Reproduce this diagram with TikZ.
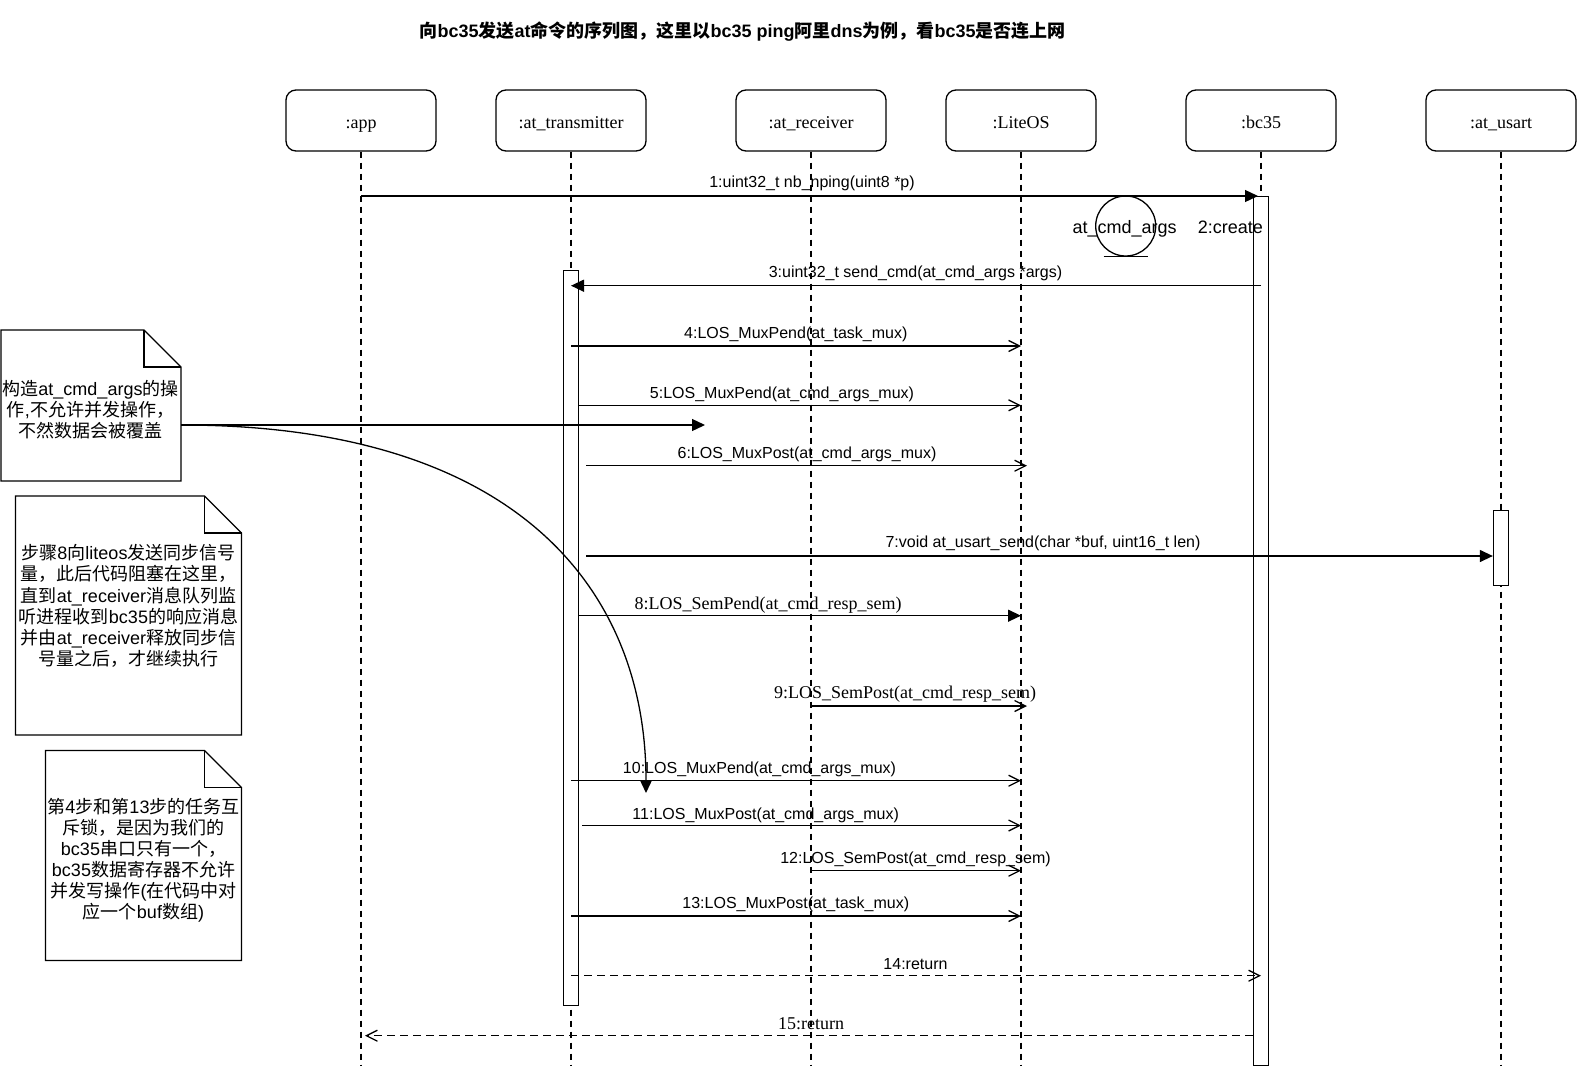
\documentclass[tikz,border=0pt]{standalone}
\usepackage{fontspec}
\setmainfont{Liberation Sans}
\newfontfamily\seriffam{Liberation Serif}
\newfontfamily\cjk{Noto Sans CJK SC}
\usetikzlibrary{arrows.meta}
\newcommand\zhtxt[1]{{\cjk #1}}
\begin{document}
\begin{tikzpicture}[x=1pt,y=-1pt,
  lifebox/.style={draw, rounded corners=10pt, minimum width=150pt, minimum height=61pt, inner sep=0pt, text height=15pt, text depth=0pt, line width=1.3pt, font=\seriffam\fontsize{18}{21}\selectfont},
  lifeline/.style={line width=1.3pt, dash pattern=on 6pt off 5pt},
  actbar/.style={draw, fill=white, line width=1.3pt, minimum width=15pt, inner sep=0pt},
  msg/.style={line width=1.3pt},
  sync/.style={msg, -{Triangle[length=13pt,width=12pt]}},
  async/.style={msg, -{Straight Barb[length=11pt,width=11pt]}},
  ret/.style={async, dash pattern=on 8pt off 5pt},
  lbl/.style={inner sep=0pt, yshift=-1.5pt, font=\fontsize{16}{19}\selectfont},
  slbl/.style={inner sep=0pt, yshift=-1pt, font=\seriffam\fontsize{18}{21}\selectfont},
  notebox/.style={line width=1.3pt, fill=white},
  notetext/.style={align=center, inner sep=0pt, font=\fontsize{18}{21.1}\selectfont}
]
\fill[white] (0,0) rectangle (1577,1068);
\useasboundingbox (0,0) rectangle (1577,1068);

% title
\node[inner sep=0pt, font=\bfseries\fontsize{18}{21}\selectfont] (title) at (742.6,31.5)
  {\zhtxt{向}bc35\zhtxt{发送}at\zhtxt{命令的序列图，这里以}bc35 ping\zhtxt{阿里}dns\zhtxt{为例，看}bc35\zhtxt{是否连上网}};

% lifeline heads
\node[lifebox] (app) at (361,120.5) {:app};
\node[lifebox] (tr) at (571,120.5) {:at\_transmitter};
\node[lifebox] (rc) at (811,120.5) {:at\_receiver};
\node[lifebox] (os) at (1021,120.5) {:LiteOS};
\node[lifebox] (bc) at (1261,120.5) {:bc35};
\node[lifebox] (us) at (1501,120.5) {:at\_usart};

% lifelines
\foreach \n in {app,tr,rc,os,bc,us} {
  \draw[lifeline] (\n.south) -- (\n.south |- 0,1066);
}

% activation bars
\node[actbar, minimum height=735pt] (trbar) at (571,638.2) {};
\node[actbar, minimum height=869pt] (bcbar) at (1261,631) {};
\node[actbar, minimum height=75pt] (usbar) at (1501,548.3) {};

% 1
\draw[sync, shorten >=3pt] (app.south |- 0,196) -- (bc.south |- 0,196);
\node[lbl] (l1) at (812,182) {1:uint32\_t nb\_nping(uint8 *p)};

% 2 create object
\node[circle, draw, line width=1.3pt, minimum size=60pt, inner sep=0pt] (args) at (1125.7,226) {};
\draw[line width=1.3pt] ([xshift=-22pt]args.south) -- ([xshift=22pt]args.south);
\node[inner sep=0pt, font=\fontsize{18}{21}\selectfont] (argstxt) at (1124.7,228.5) {at\_cmd\_args};
\node[inner sep=0pt, font=\fontsize{18}{21}\selectfont] (l2) at (1230.3,227.3) {2:create};

% 3
\draw[sync] (bc.south |- 0,285.7) -- (tr.south |- 0,285.7);
\node[lbl] (l3) at (915.5,271.5) {3:uint32\_t send\_cmd(at\_cmd\_args *args)};

% 4
\draw[async] (tr.south |- 0,346) -- (os.south |- 0,346);
\node[lbl] (l4) at (795.8,332.5) {4:LOS\_MuxPend(at\_task\_mux)};

% 5
\draw[async] (trbar.east |- 0,405.3) -- (os.south |- 0,405.3);
\node[lbl] (l5) at (782,393.3) {5:LOS\_MuxPend(at\_cmd\_args\_mux)};

% 6
\draw[async] ([xshift=7pt]trbar.east |- 0,465.7) -- ([xshift=6pt]os.south |- 0,465.7);
\node[lbl] (l6) at (807,452.7) {6:LOS\_MuxPost(at\_cmd\_args\_mux)};

% 7
\draw[sync] ([xshift=7pt]trbar.east |- 0,556) -- (usbar.west |- 0,556);
\node[lbl] (l7) at (1043,542) {7:void at\_usart\_send(char *buf, uint16\_t len)};

% 8
\draw[sync] (trbar.east |- 0,615.7) -- (os.south |- 0,615.7);
\node[slbl] (l8) at (768,604) {8:LOS\_SemPend(at\_cmd\_resp\_sem)};

% 9
\draw[async] (rc.south |- 0,706) -- ([xshift=6pt]os.south |- 0,706);
\node[slbl] (l9) at (905,693) {9:LOS\_SemPost(at\_cmd\_resp\_sem)};

% 10
\draw[async] (tr.south |- 0,780.7) -- (os.south |- 0,780.7);
\node[lbl] (l10) at (759.5,768) {10:LOS\_MuxPend(at\_cmd\_args\_mux)};

% 11
\draw[async] ([xshift=3pt]trbar.east |- 0,825.5) -- (os.south |- 0,825.5);
\node[lbl] (l11) at (765.7,813.5) {11:LOS\_MuxPost(at\_cmd\_args\_mux)};

% 12
\draw[async] (rc.south |- 0,870.7) -- (os.south |- 0,870.7);
\node[lbl] (l12) at (915.5,858) {12:LOS\_SemPost(at\_cmd\_resp\_sem)};

% 13
\draw[async] (tr.south |- 0,916) -- (os.south |- 0,916);
\node[lbl] (l13) at (795.8,903) {13:LOS\_MuxPost(at\_task\_mux)};

% 14
\draw[ret] (tr.south |- 0,975.7) -- (bc.south |- 0,975.7);
\node[lbl] (l14) at (915.5,963) {14:return};

% 15
\draw[ret, shorten >=4pt] (bcbar.west |- 0,1035.7) -- (app.south |- 0,1035.7);
\node[slbl] (l15) at (811,1022.7) {15:return};

% note 1
\draw[notebox] (1,330) -- (144,330) -- (181,367) -- (181,481) -- (1,481) -- cycle;
\draw[line width=1.3pt] (144,330) -- (144,367) -- (181,367);
\node[notetext] (n1) at (90.5,409.5) {\zhtxt{构造}at\_cmd\_args\zhtxt{的操}\\\zhtxt{作},\zhtxt{不允许并发操作，}\\\zhtxt{不然数据会被覆盖}};
\coordinate (n1e) at (181,425);
\coordinate (n1tip) at (705,425);
\coordinate (curvetip) at (646,793);
\draw[sync] (n1e) -- (n1tip);
\draw[sync] (n1e) .. controls (521,425) and (646,593) .. (curvetip);

% note 2
\draw[notebox] (15.5,496) -- (204.5,496) -- (241.5,533) -- (241.5,735) -- (15.5,735) -- cycle;
\draw[line width=1.3pt] (204.5,496) -- (204.5,533) -- (241.5,533);
\node[notetext] (n2) at (128.5,606) {\zhtxt{步骤}8\zhtxt{向}liteos\zhtxt{发送同步信号}\\\zhtxt{量，此后代码阻塞在这里，}\\\zhtxt{直到}at\_receiver\zhtxt{消息队列监}\\\zhtxt{听进程收到}bc35\zhtxt{的响应消息}\\\zhtxt{并由}at\_receiver\zhtxt{释放同步信}\\\zhtxt{号量之后，才继续执行}};

% note 3
\draw[notebox] (45.5,750.5) -- (204.5,750.5) -- (241.5,787.5) -- (241.5,960.5) -- (45.5,960.5) -- cycle;
\draw[line width=1.3pt] (204.5,750.5) -- (204.5,787.5) -- (241.5,787.5);
\node[notetext] (n3) at (143.5,860) {\zhtxt{第}4\zhtxt{步和第}13\zhtxt{步的任务互}\\\zhtxt{斥锁，是因为我们的}\\bc35\zhtxt{串口只有一个，}\\bc35\zhtxt{数据寄存器不允许}\\\zhtxt{并发写操作}(\zhtxt{在代码中对}\\\zhtxt{应一个}buf\zhtxt{数组})};
\end{tikzpicture}
\end{document}
